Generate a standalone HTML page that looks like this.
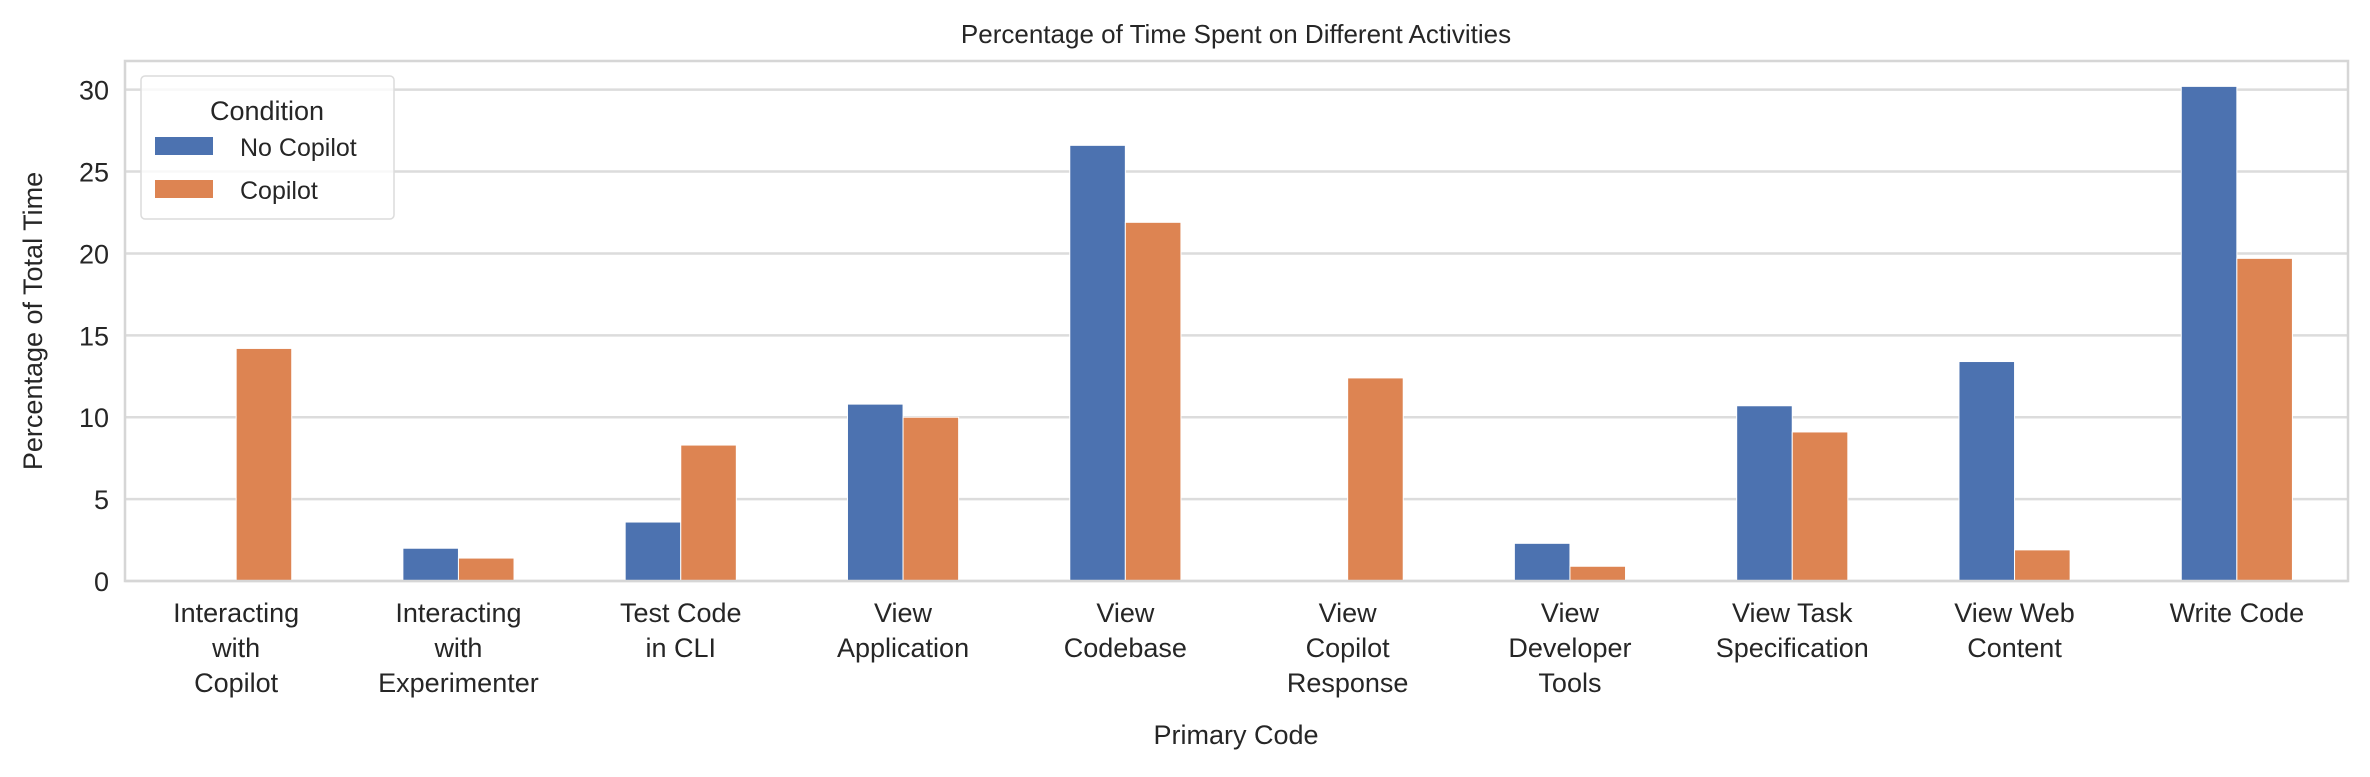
<!DOCTYPE html>
<html><head><meta charset="utf-8"><style>
html,body{margin:0;padding:0;background:#fff;}
svg text{font-family:"Liberation Sans",Arial,sans-serif;fill:#262626;}
</style></head><body>
<svg id="chart" width="2370" height="772" viewBox="0 0 2370 772" xmlns="http://www.w3.org/2000/svg">
<g id="grid"></g>
<g id="bars"></g>
<rect x="125" y="61" width="2223" height="520" fill="none" stroke="#d6d6d6" stroke-width="2.5"/>
<g id="yticks"></g>
<g id="xticks"></g>
<text x="1236" y="43" font-size="26" text-anchor="middle">Percentage of Time Spent on Different Activities</text>
<text x="1236" y="744" font-size="27" text-anchor="middle">Primary Code</text>
<text x="0" y="0" font-size="27" text-anchor="middle" transform="translate(42,321) rotate(-90)">Percentage of Total Time</text>
<g>
<rect x="141" y="76" width="253" height="143" rx="4" fill="#fff" fill-opacity="0.8" stroke="#dcdcdc" stroke-width="1.5"/>
<text x="267" y="113" font-size="27" text-anchor="middle" dominant-baseline="middle">Condition</text>
<rect x="155" y="137" width="58" height="18" fill="#4c72b0"/>
<text x="240" y="156" font-size="25">No Copilot</text>
<rect x="155" y="180" width="58" height="18" fill="#dd8452"/>
<text x="240" y="199" font-size="25">Copilot</text>
</g>
</svg>
<script>
const categories = [["Interacting","with","Copilot"],["Interacting","with","Experimenter"],["Test Code","in CLI"],["View","Application"],["View","Codebase"],["View","Copilot","Response"],["View","Developer","Tools"],["View Task","Specification"],["View Web","Content"],["Write Code"]];
const noCopilot = [0, 2.0, 3.6, 10.8, 26.6, 0, 2.3, 10.7, 13.4, 30.2];
const copilot = [14.2, 1.4, 8.3, 10.0, 21.9, 12.4, 0.9, 9.1, 1.9, 19.7];
const yTicks = [0, 5, 10, 15, 20, 25, 30];

const NS = "http://www.w3.org/2000/svg";
const L = 125, R = 2348, T = 61, B = 581;
const yMax = 31.75;
const y = v => B - v / yMax * (B - T);
const bw = (R - L) / categories.length;
const xc = i => L + bw * (i + 0.5);
function mk(tag, attrs, parent){const e=document.createElementNS(NS,tag);for(const k in attrs)e.setAttribute(k,attrs[k]);parent.appendChild(e);return e;}
const grid=document.getElementById('grid'), bars=document.getElementById('bars'), yt=document.getElementById('yticks'), xt=document.getElementById('xticks');
yTicks.forEach(t=>{
  const g=mk('line',{x1:L,x2:R,y1:y(t),y2:y(t),stroke:'#dcdcdc','stroke-width':2.5},grid);
  
  
  const tx=mk('text',{x:L-16,y:y(t)+10,'font-size':27,'text-anchor':'end'},yt);
  tx.textContent=t;
  
  
});
const series=[[noCopilot,'#4c72b0',-1,'no-copilot'],[copilot,'#dd8452',1,'copilot']];
categories.forEach((c,i)=>{
  series.forEach(([vals,col,side,nm])=>{
    const v=vals[i]; if(!v) return;
    const w=bw*0.25, cx=xc(i)+side*bw*0.125;
    const r=mk('rect',{x:cx-w/2,y:y(v),width:w,height:y(0)-y(v),fill:col,stroke:'#fff','stroke-width':1},bars);
    
    
  });
  const tx=mk('text',{x:xc(i),y:622,'font-size':27,'text-anchor':'middle'},xt);
  
  
  c.forEach((line,k)=>{const s=mk('tspan',{x:xc(i),dy:k===0?0:35},tx);s.textContent=line;});
});
</script>
</body></html>
